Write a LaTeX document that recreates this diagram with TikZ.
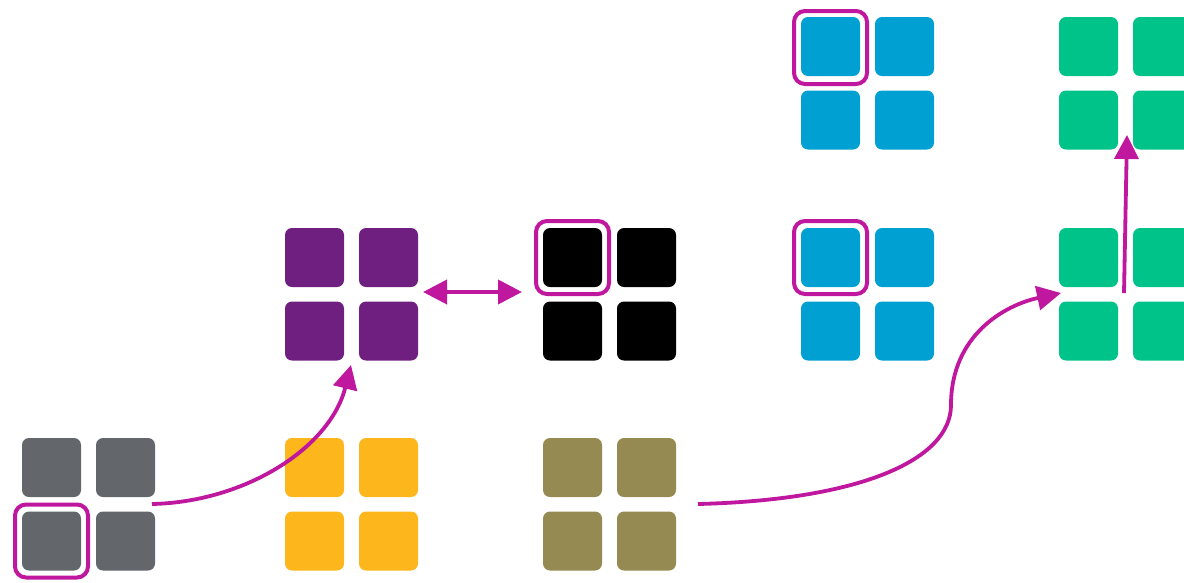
\documentclass[tikz,border=0pt]{standalone}
\usetikzlibrary{arrows.meta,calc}
\definecolor{cgray}{HTML}{63666A}
\definecolor{cyellow}{HTML}{FDB71C}
\definecolor{colive}{HTML}{958B52}
\definecolor{cpurple}{HTML}{6F1F80}
\definecolor{cblack}{HTML}{000000}
\definecolor{cblue}{HTML}{00A0D2}
\definecolor{cgreen}{HTML}{00C389}
\definecolor{cmag}{HTML}{C0179F}
\tikzset{
  sq/.style={rectangle, rounded corners=7pt, minimum size=59pt, inner sep=0pt, draw=none},
  hl/.style={rectangle, rounded corners=11pt, minimum size=73pt, inner sep=0pt, draw=cmag, line width=4pt},
  arr/.style={draw=cmag, line width=3.8pt, -{Triangle[length=24pt,width=24pt]}},
  darr/.style={draw=cmag, line width=3.8pt, {Triangle[length=24pt,width=24pt]}-{Triangle[length=24pt,width=24pt]}}
}
\newcommand{\sqgrid}[4]{%
  \node[sq, fill=#4] (#1-a) at (#2+29.5, #3+29.5) {};
  \node[sq, fill=#4] (#1-b) at (#2+103.5, #3+29.5) {};
  \node[sq, fill=#4] (#1-c) at (#2+29.5, #3+103) {};
  \node[sq, fill=#4] (#1-d) at (#2+103.5, #3+103) {};
}
\begin{document}
\begin{tikzpicture}[x=1pt, y=-1pt]
\useasboundingbox (0,0) rectangle (1184,582);
\clip (0,0) rectangle (1184,582);
\sqgrid{gray}{22}{438}{cgray}
\sqgrid{yellow}{285}{438}{cyellow}
\sqgrid{olive}{543}{438}{colive}
\sqgrid{purple}{285}{228}{cpurple}
\sqgrid{black}{543}{228}{cblack}
\sqgrid{bluemid}{801}{228}{cblue}
\sqgrid{bluetop}{801}{17}{cblue}
\sqgrid{greenmid}{1059}{228}{cgreen}
\sqgrid{greentop}{1059}{17}{cgreen}
% highlights
\node[hl] (hl-gray) at (gray-c) {};
\node[hl] (hl-black) at (black-a) {};
\node[hl] (hl-bluemid) at (bluemid-a) {};
\node[hl] (hl-bluetop) at ($(bluetop-a)+(0,1)$) {};
% connector end points
\coordinate (s1) at (152,504);
\coordinate (e1) at (351,365);
\coordinate (s2) at (698,504);
\coordinate (m2) at (951,405);
\coordinate (e2) at (1061,293);
\coordinate (s3) at (1124,293);
\coordinate (e3) at (1127,135);
\coordinate (dl) at (423,292);
\coordinate (dr) at (522,292);
% connectors
\draw[arr] (s1) .. controls (245,502) and (330,448) .. (e1);
\draw[darr] (dl) -- (dr);
\draw[arr] (s2) .. controls (860,500) and (951,460) .. (m2)
  .. controls (951,335) and (1005,305) .. (e2);
\draw[arr] (s3) -- (e3);
\end{tikzpicture}
\end{document}
